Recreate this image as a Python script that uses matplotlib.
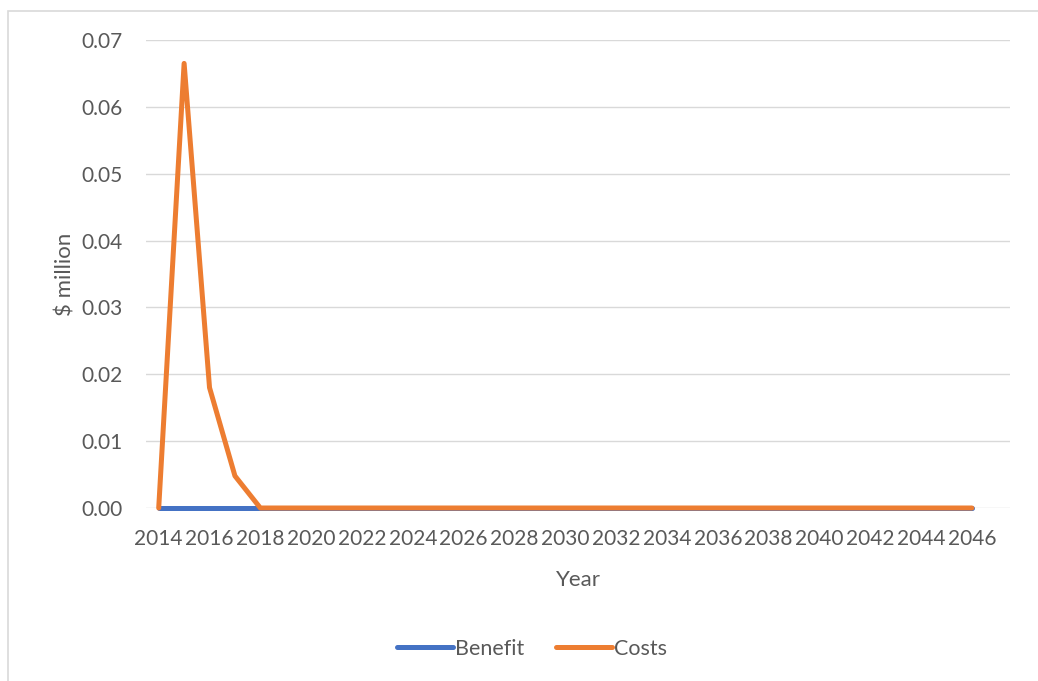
import matplotlib
matplotlib.use("Agg")
import matplotlib.pyplot as plt
from matplotlib.patches import Rectangle

years = list(range(2014, 2047))
benefit = [0.0] * len(years)
costs = [0.0, 0.0665, 0.018, 0.0048] + [0.0] * (len(years) - 4)
yticks = [0.00, 0.01, 0.02, 0.03, 0.04, 0.05, 0.06, 0.07]
xticks = list(range(2014, 2047, 2))

plt.rcParams['font.family'] = ['Lato', 'DejaVu Sans']
txt = '#595959'

W, H = 1038, 681
fig = plt.figure(figsize=(W / 100, H / 100), dpi=100)
ax = fig.add_axes([146 / W, 1 - 508 / H, (1010 - 146) / W, (508 - 40) / H])

ax.plot(years, benefit, color='#4472C4', lw=3.6, label='Benefit', solid_capstyle='round',
        zorder=3, clip_on=False)
ax.plot(years, costs, color='#ED7D31', lw=3.6, label='Costs', solid_capstyle='round',
        solid_joinstyle='round', zorder=4, clip_on=False)

ax.set_xlim(2013.5, 2047.5)
ax.set_ylim(0, 0.07)
ax.set_yticks(yticks)
ax.set_yticklabels([f"{v:.2f}" for v in yticks])
ax.set_xticks(xticks)
ax.set_xticklabels([str(x) for x in xticks])
ax.grid(axis='y', color='#D9D9D9', lw=1.0)
ax.set_axisbelow(True)
for s in ax.spines.values():
    s.set_visible(False)
ax.tick_params(axis='both', length=0, labelsize=15, labelcolor=txt)
ax.tick_params(axis='x', pad=15)
ax.tick_params(axis='y', pad=17)

ax.set_xlabel('Year', fontsize=16, color=txt, labelpad=15)
ax.set_ylabel('$ million', fontsize=16, color=txt, labelpad=4)

leg = fig.legend(loc='center', bbox_to_anchor=(532 / W, 1 - 649 / H), ncol=2, frameon=False,
                 fontsize=15.5, handlelength=2.6, handletextpad=0.1, columnspacing=1.5)
for t in leg.get_texts():
    t.set_color(txt)

fig.patches.append(Rectangle((7.5 / W, -0.1), 1.2, 1 - 10.5 / H + 0.1, transform=fig.transFigure,
                             fill=False, edgecolor='#D9D9D9', lw=1.2))

fig.savefig('out.png', dpi=100, facecolor='white')
